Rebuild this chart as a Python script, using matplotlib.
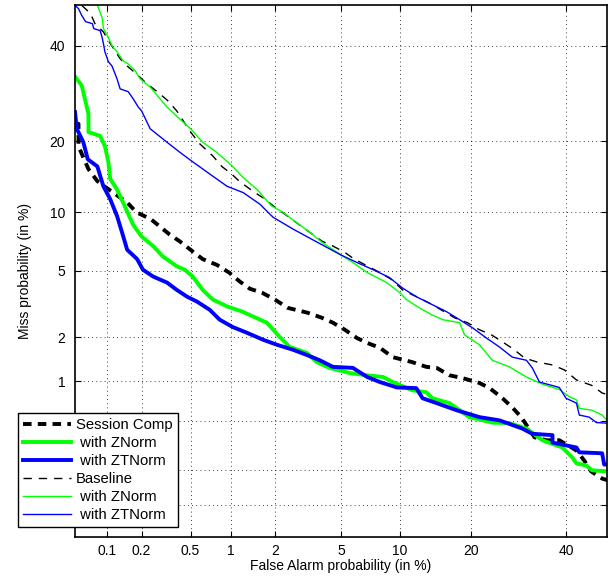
from statistics import NormalDist

import numpy as np
import matplotlib
matplotlib.use("Agg")
import matplotlib.pyplot as plt

plt.rcParams['font.family'] = ['Liberation Sans', 'DejaVu Sans']

# DET curves, values in percent: (false alarm, miss)
sc_fa = [0.05, 0.054, 0.054, 0.067, 0.081, 0.096, 0.15, 0.18, 0.24, 0.34, 0.41, 0.5, 0.62, 0.79,
         0.97, 1.16, 1.36, 1.64, 2.0, 2.42, 3.2, 3.9, 4.5, 5.24, 6.1, 6.9, 8.0, 9.25, 11.4, 13.2,
         14.6, 16.5, 18.6, 21.5, 23.4, 25.9, 27.9, 29.8, 32.7, 35.4, 38.4, 42.5, 44.4, 46.1, 48.8, 50]
sc_miss = [23.1, 23.1, 19.1, 15.5, 13.8, 13.0, 11.1, 10.0, 9.25, 7.8, 7.2, 6.5, 5.8, 5.4,
           4.9, 4.35, 3.96, 3.76, 3.42, 3.05, 2.85, 2.65, 2.47, 2.23, 1.97, 1.83, 1.7, 1.47, 1.36, 1.26,
           1.24, 1.1, 1.05, 0.97, 0.89, 0.75, 0.64, 0.54, 0.375, 0.355, 0.355, 0.293, 0.242, 0.196, 0.17, 0.165]

scz_fa = [0.05, 0.058, 0.067, 0.067, 0.086, 0.095, 0.102, 0.106, 0.122, 0.138, 0.169, 0.2, 0.25, 0.3,
          0.39, 0.45, 0.52, 0.62, 0.74, 0.95, 1.2, 1.43, 1.77, 2.15, 2.49, 3.17, 3.63, 4.3, 5.6, 6.9,
          8.3, 9.25, 11.4, 13.2, 14.0, 16.5, 18.1, 19.7, 23.9, 27.3, 30.9, 34.5, 39.1, 41.5, 42.5,
          44.9, 46.3, 50]
scz_miss = [32.9, 30.9, 25.0, 21.6, 20.9, 19.1, 16.6, 14.1, 12.7, 11.1, 8.7, 7.6, 6.8, 6.0,
            5.3, 5.08, 4.65, 3.9, 3.42, 3.1, 2.9, 2.7, 2.47, 2.0, 1.72, 1.57, 1.36, 1.24, 1.14, 1.1,
            1.07, 0.985, 0.86, 0.83, 0.75, 0.69, 0.61, 0.54, 0.49, 0.485, 0.44, 0.355, 0.31, 0.257, 0.229,
            0.22, 0.2, 0.196]

sczt_fa = [0.05, 0.052, 0.06, 0.066, 0.081, 0.092, 0.106, 0.122, 0.135, 0.15, 0.183, 0.205, 0.25, 0.325,
           0.39, 0.47, 0.56, 0.7, 0.83, 1.03, 1.3, 1.67, 2.06, 2.6, 3.17, 3.78, 4.5, 5.8, 6.9, 8.0,
           9.7, 11.9, 12.7, 14.6, 17.6, 21.5, 25.3, 30.0, 32.2, 36.8, 36.8, 42.5, 43.2, 48.8, 49.3, 50]
sczt_miss = [25.4, 22.2, 19.8, 17.0, 15.9, 13.1, 11.5, 9.6, 8.0, 6.5, 5.8, 5.08, 4.65, 4.3,
             3.9, 3.56, 3.33, 2.97, 2.58, 2.32, 2.13, 1.92, 1.78, 1.65, 1.52, 1.4, 1.26, 1.24, 1.07, 0.985,
             0.9, 0.89, 0.75, 0.69, 0.61, 0.54, 0.51, 0.44, 0.4, 0.39, 0.34, 0.31, 0.283, 0.278, 0.224, 0.224]

bl_fa = [0.058, 0.07, 0.077, 0.092, 0.106, 0.13, 0.153, 0.18, 0.222, 0.27, 0.33, 0.39, 0.5, 0.59,
         0.74, 0.86, 1.01, 1.16, 1.47, 1.72, 1.95, 2.31, 3.0, 3.9, 4.5, 5.24, 5.9, 8.0, 9.15, 10.3,
         11.4, 12.3, 14.0, 17.3, 19.4, 21.5, 23.7, 25.9, 28.3, 30.5, 33.3, 36.8, 39.6, 42.5, 46.3,
         48.8, 50]
bl_miss = [49.9, 47.9, 45.4, 43.4, 40.6, 37.0, 35.1, 33.5, 31.3, 29.6, 27.7, 25.6, 21.6, 19.5,
           17.5, 15.9, 14.8, 13.7, 12.3, 11.5, 10.7, 9.8, 8.45, 7.2, 6.8, 6.3, 5.8, 4.9, 4.47, 3.9,
           3.66, 3.5, 3.19, 2.65, 2.47, 2.23, 2.07, 1.86, 1.65, 1.45, 1.36, 1.3, 1.2, 1.02, 0.93,
           0.82, 0.8]

blz_fa = [0.081, 0.09, 0.092, 0.1, 0.11, 0.122, 0.138, 0.153, 0.176, 0.194, 0.236, 0.285, 0.325, 0.413,
          0.5, 0.62, 0.79, 1.03, 1.22, 1.52, 1.9, 2.25, 2.75, 3.3, 3.9, 5.0, 5.8, 6.9, 8.65, 10.0,
          10.75, 12.3, 13.9, 15.5, 18.1, 18.9, 21.5, 23.9, 27.3, 30.9, 34.5, 38.4, 40.8, 42.5, 43.2,
          46.3, 48.8, 50]
blz_miss = [50.0, 46.7, 44.2, 42.5, 40.1, 38.6, 36.5, 35.8, 34.2, 32.4, 30.6, 28.1, 26.4, 24.0,
            22.2, 19.8, 18.1, 15.9, 14.3, 12.7, 10.7, 10.0, 8.9, 8.0, 7.1, 6.1, 5.56, 4.9, 4.3, 3.76,
            3.42, 3.05, 2.77, 2.58, 2.47, 2.07, 1.78, 1.4, 1.26, 1.07, 0.95, 0.87, 0.77, 0.73, 0.63,
            0.61, 0.56, 0.51]

blzt_fa = [0.05, 0.054, 0.058, 0.063, 0.073, 0.075, 0.086, 0.09, 0.092, 0.095, 0.102, 0.11, 0.122, 0.13,
           0.153, 0.169, 0.187, 0.2, 0.236, 0.325, 0.413, 0.52, 0.7, 0.94, 1.22, 1.59, 1.85, 1.95,
           2.6, 3.17, 3.9, 5.0, 6.1, 7.4, 8.9, 10.3, 11.9, 14.0, 16.0, 18.1, 20.3, 22.8, 25.3, 27.9,
           30.9, 32.2, 33.8, 38.4, 40.0, 42.5, 43.2, 45.6, 47.4, 50]
blzt_miss = [49.9, 49.1, 47.4, 45.9, 45.4, 44.2, 43.7, 41.8, 40.6, 38.6, 36.3, 35.3, 32.4, 30.2,
             29.6, 28.1, 26.4, 25.6, 22.2, 19.8, 18.1, 16.6, 14.8, 13.1, 12.3, 10.9, 9.8, 9.45,
             8.3, 7.6, 6.9, 6.1, 5.56, 5.08, 4.6, 4.0, 3.56, 3.19, 2.9, 2.58, 2.29, 1.97, 1.72, 1.47,
             1.4, 1.24, 0.985, 0.9, 0.75, 0.69, 0.56, 0.54, 0.49, 0.485]

ticks = [0.1, 0.2, 0.5, 1, 2, 5, 10, 20, 40]
tick_labels = ['0.1', '0.2', '0.5', '1', '2', '5', '10', '20', '40']
legend_labels = ['Session Comp', ' with ZNorm', ' with ZTNorm', 'Baseline', ' with ZNorm', ' with ZTNorm']

# normal deviate (probit) scale
nd = NormalDist()
_ppf = np.vectorize(nd.inv_cdf, otypes=[float])
_cdf = np.vectorize(nd.cdf, otypes=[float])


def probit(p):
    p = np.clip(np.asarray(p, dtype=float) / 100.0, 1e-9, 1 - 1e-9)
    return _ppf(p)


def inv_probit(u):
    return _cdf(np.asarray(u, dtype=float)) * 100.0


fig = plt.figure(figsize=(6.12, 5.79), dpi=100)
ax = fig.add_axes([75 / 612, 42 / 579, 532 / 612, 532 / 579])
ax.set_xscale('function', functions=(probit, inv_probit))
ax.set_yscale('function', functions=(probit, inv_probit))

thick = 2.8
thin = 1.0
ax.plot(sc_fa, sc_miss, color='black', lw=thick, ls=(0, (2.2, 1.6)), label=legend_labels[0])
ax.plot(scz_fa, scz_miss, color='#00ff00', lw=thick, label=legend_labels[1])
ax.plot(sczt_fa, sczt_miss, color='#0000ff', lw=thick, label=legend_labels[2])
ax.plot(bl_fa, bl_miss, color='black', lw=thin, ls=(0, (6, 5)), label=legend_labels[3])
ax.plot(blz_fa, blz_miss, color='#00ff00', lw=thin, label=legend_labels[4])
ax.plot(blzt_fa, blzt_miss, color='#0000ff', lw=thin, label=legend_labels[5])

ax.set_xlim(0.05, 50)
ax.set_ylim(0.05, 50)
ax.set_xticks(ticks)
ax.set_xticklabels(tick_labels)
ax.set_yticks(ticks)
ax.set_yticklabels(tick_labels)
ax.minorticks_off()
ax.tick_params(direction='in', top=True, right=True, length=4, width=0.8, labelsize=10)
ax.tick_params(axis='x', pad=5)
ax.tick_params(axis='y', pad=7)
ax.grid(True, color='black', ls=(0, (1, 4)), lw=0.6)
for s in ax.spines.values():
    s.set_linewidth(1.2)

ax.set_xlabel('False Alarm probability (in %)', fontsize=10, labelpad=1)
ax.set_ylabel('Miss probability (in %)', fontsize=10, labelpad=10)

leg = ax.legend(loc='lower left', bbox_to_anchor=(18 / 612, 52 / 579), bbox_transform=fig.transFigure,
                fontsize=10.7, fancybox=False, framealpha=1, edgecolor='black', handlelength=3.2,
                handletextpad=0.35, labelspacing=0.26, borderpad=0.35, borderaxespad=0)
leg.get_frame().set_linewidth(1.0)

fig.savefig('out.png', dpi=100)
